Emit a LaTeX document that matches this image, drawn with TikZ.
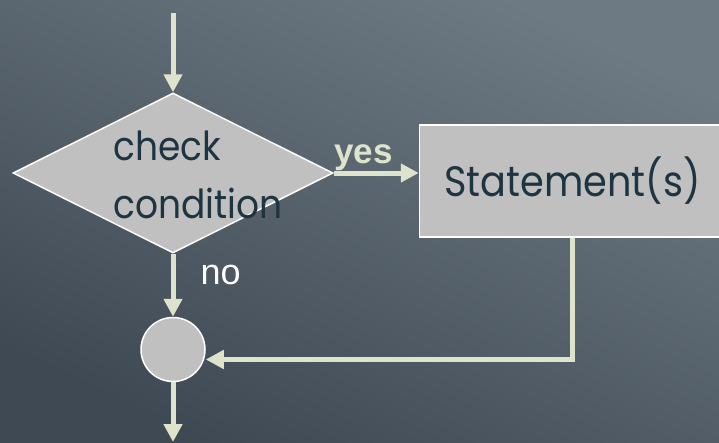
\documentclass[tikz,border=0pt]{standalone}
\usepackage{fontspec}
\setmainfont[FakeStretch=0.9]{Poppins}
\newfontfamily\arialfont{Liberation Sans}
\usepackage{tikz}
\usetikzlibrary{positioning}
\usetikzlibrary{shapes.geometric}
\usetikzlibrary{arrows.meta}

\definecolor{flowline}{HTML}{DDE4CB}
\definecolor{boxgray}{HTML}{C0C0C0}
\definecolor{inktext}{HTML}{1E3440}
\definecolor{bglight}{HTML}{6E7A83}
\definecolor{bgdark}{HTML}{3E4954}

\tikzset{
  flow/.style={draw=flowline, line width=5pt, -{Triangle[length=18pt,width=18pt]}},
  decision/.style={diamond, draw=white, line width=1.5pt, fill=boxgray,
                   minimum width=320pt, minimum height=160pt, inner sep=0pt},
  stmtbox/.style={rectangle, draw=white, line width=1.5pt, fill=boxgray,
                  minimum width=306pt, minimum height=112pt, text=inktext,
                  font=\fontsize{42.5pt}{50pt}\selectfont},
  joinnode/.style={circle, draw=white, line width=1.5pt, fill=boxgray,
                   minimum size=64pt, inner sep=0pt},
  condtext/.style={align=left, inner sep=0pt, text=inktext,
                   font=\fontsize{40pt}{58pt}\selectfont},
  yeslabel/.style={text=flowline, inner sep=0pt, anchor=base,
                   font=\arialfont\bfseries\fontsize{35pt}{40pt}\selectfont},
  nolabel/.style={text=white, inner sep=0pt, anchor=west,
                  font=\arialfont\fontsize{36pt}{40pt}\selectfont}
}

\begin{document}
\begin{tikzpicture}[x=1pt, y=-1pt, node distance=63pt]
	\useasboundingbox (0,0) rectangle (719,442);
	\clip (0,0) rectangle (719,442);
	\shade [top color=bglight, bottom color=bgdark, shading angle=-25] (0,0) rectangle (719,442);

	\coordinate (entry) at (173,13);
	\coordinate (exit) at (173,442);
	\node [decision] (check) at (173,173) {};
	\node [condtext, anchor=west] (cond) at (113,175) {check\\condition};
	\node [stmtbox, right=85pt of check, yshift=-8pt] (stmt) {Statement(s)};
	\node [joinnode, below=of check] (join) {};

	\draw [flow] (entry) -- (check.north);
	\draw [flow] (check.east) -- node [yeslabel, pos=0.35, yshift=10pt] {yes} (check.east -| stmt.west);
	\draw [flow] (check.south) -- node [nolabel, pos=0.33, xshift=25pt] {no} (join.north);
	\draw [flow] (stmt.south) |- ([yshift=-10pt]join.east);
	\draw [flow] (join.south) -- (exit);
\end{tikzpicture}
\end{document}
